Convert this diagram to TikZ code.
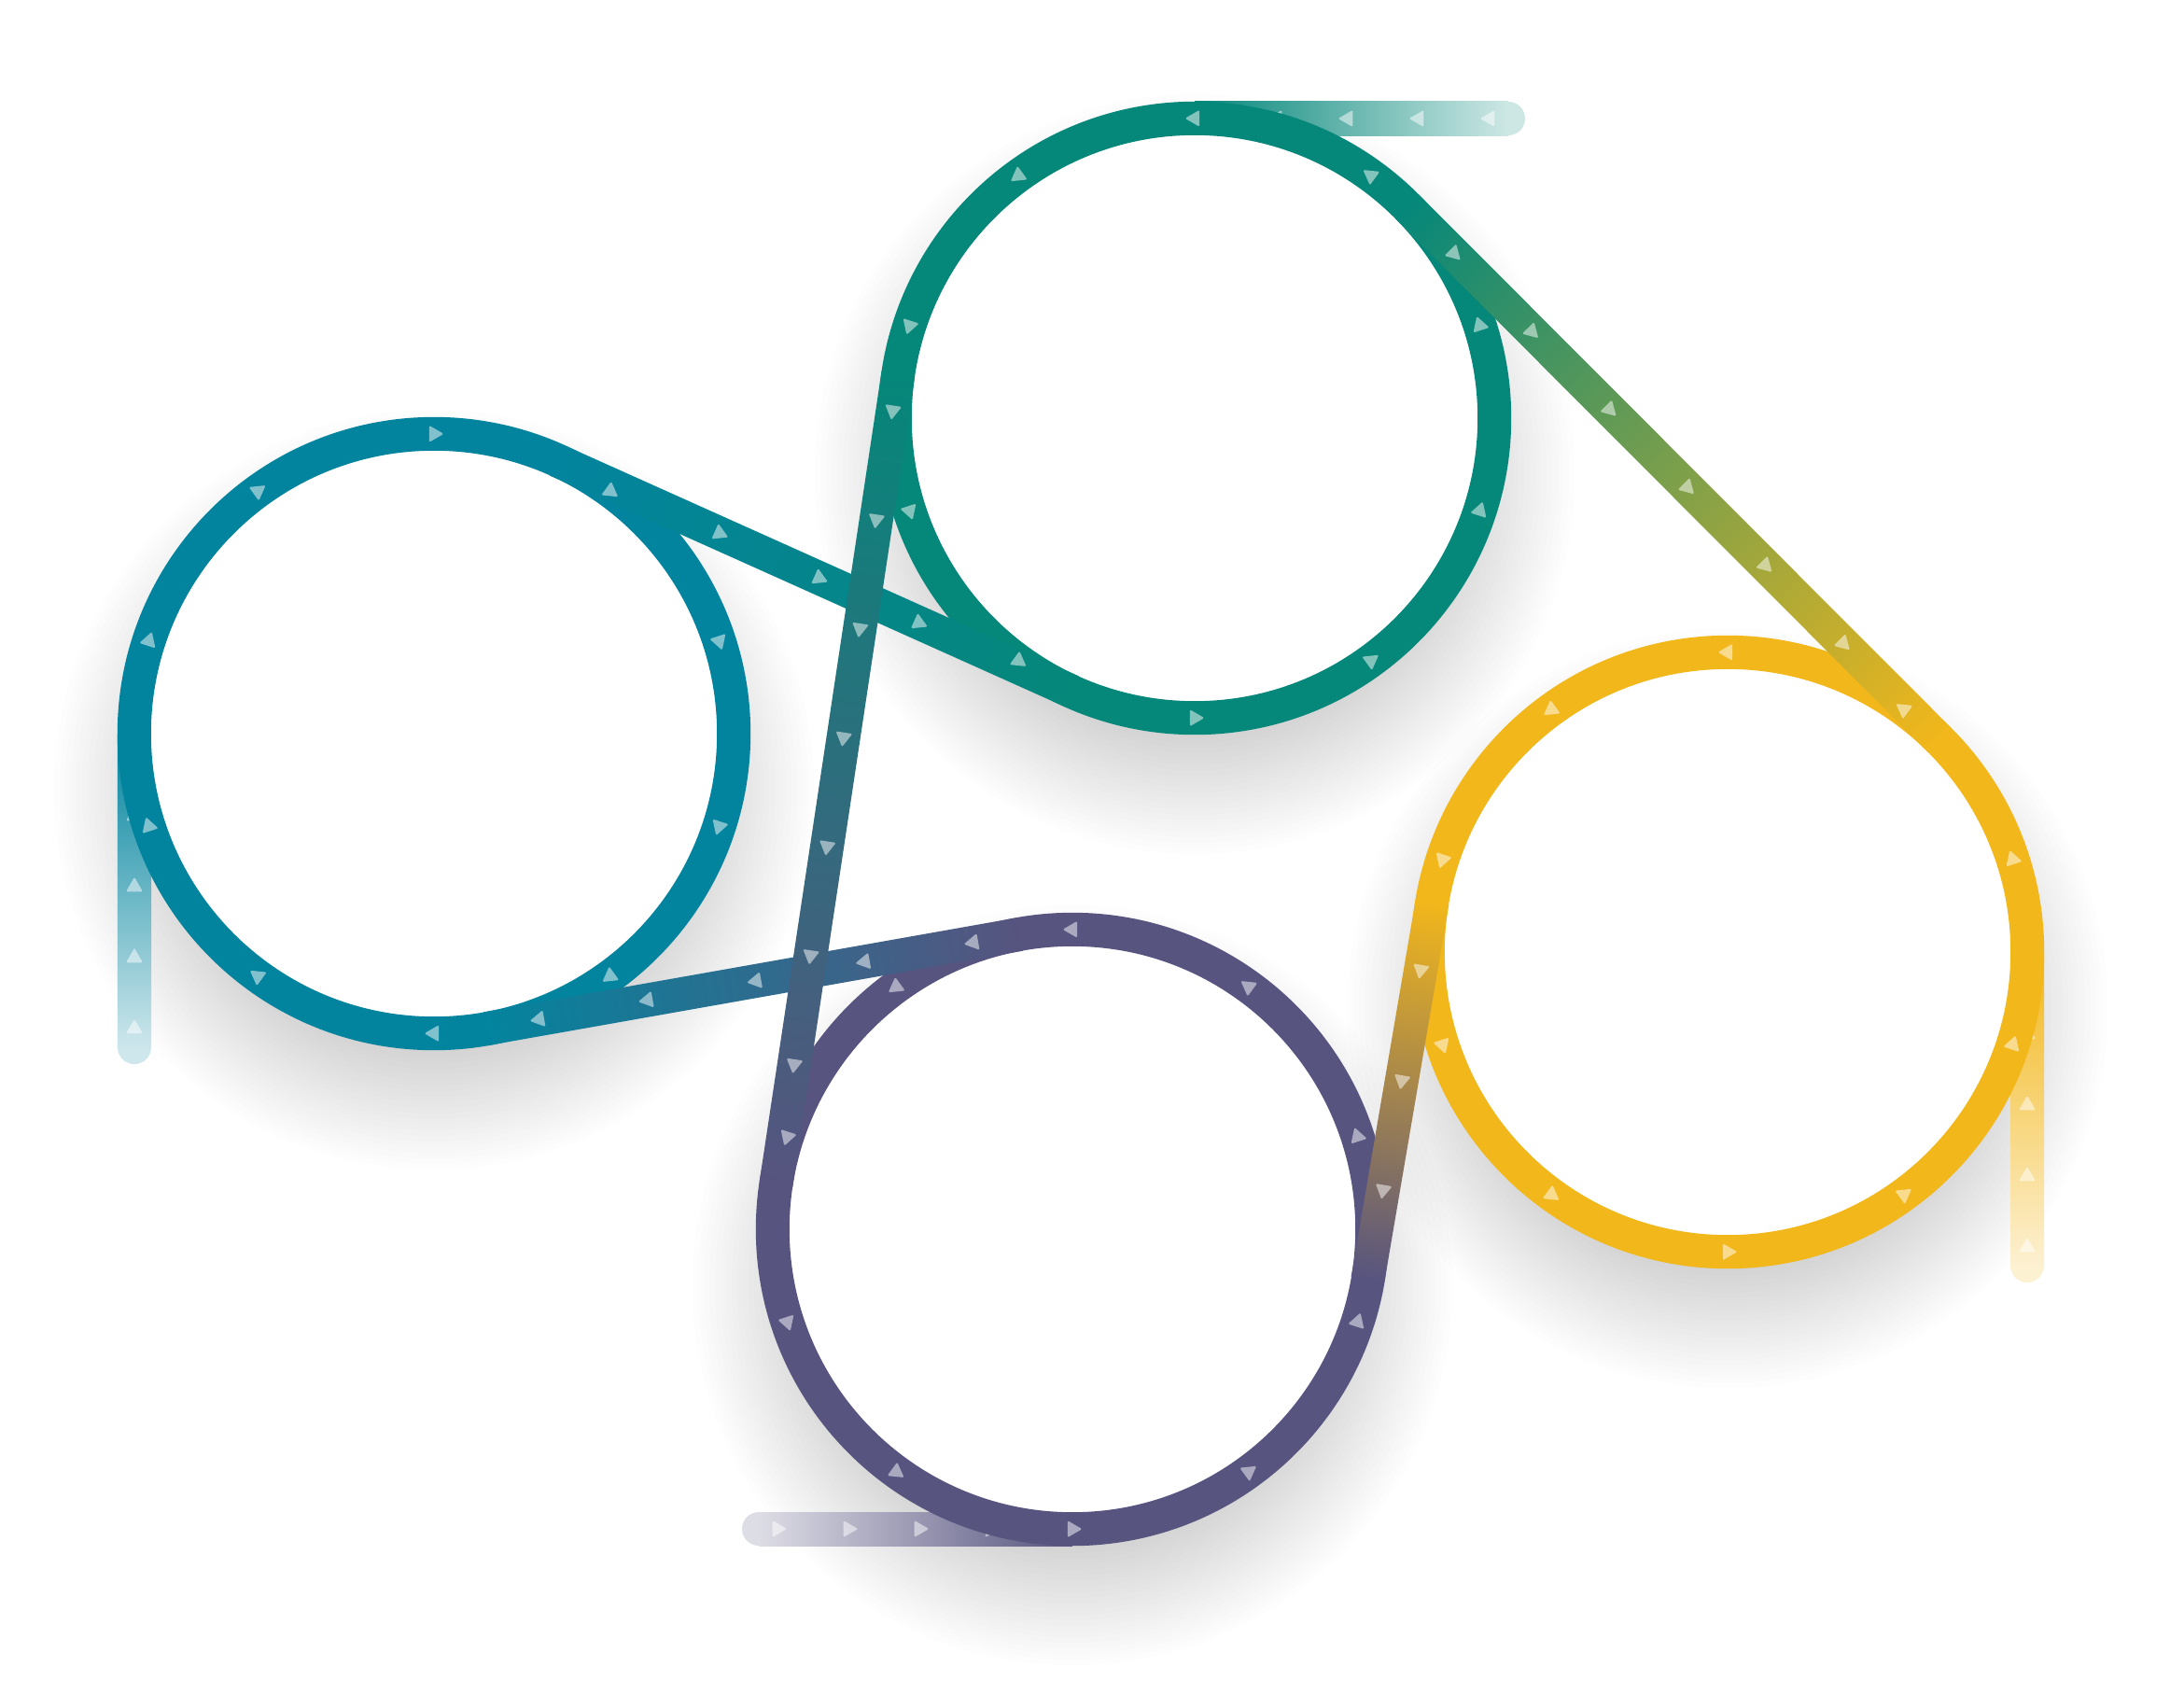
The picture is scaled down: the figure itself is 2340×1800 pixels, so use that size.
\documentclass[tikz,border=0pt]{standalone}
\usetikzlibrary{calc}
\definecolor{colA}{HTML}{05877A}
\definecolor{colB}{HTML}{03849E}
\definecolor{colC}{HTML}{57547F}
\definecolor{colD}{HTML}{F2B71B}
\tikzset{
  arrowst/.style={fill=white, fill opacity=0.5, rounded corners=0.4pt},
  shadowst/.style={fill=black, fill opacity=0.0068},
  ringst/.style={line width=0.36cm, fill=white},
}
\newcommand\bandhalf{0.18cm}
\newcommand\arrr{0.104cm}
\newcommand\mkband[6]{%
  \path (#1); \pgfgetlastxy{\bpx}{\bpy}%
  \path (#2); \pgfgetlastxy{\bqx}{\bqy}%
  \pgfmathsetmacro\bandang{atan2((\bqy)-(\bpy),(\bqx)-(\bpx))}%
  \pgfmathsetmacro\bandlen{veclen((\bqx)-(\bpx),(\bqy)-(\bpy))}%
  \begin{scope}[transform canvas={shift={(#1)},rotate=\bandang}]
    \shade[left color=#3, right color=#4] (0pt,-\bandhalf) rectangle (\bandlen pt,\bandhalf);
  \end{scope}
  \foreach \s in {#5}{%
    \fill[arrowst, shift={($(#1)!\s!(#2)$)}] (\bandang+#6:\arrr) -- (\bandang+#6+120:\arrr) -- (\bandang+#6+240:\arrr) -- cycle;
  }%
}
\begin{document}
\begin{tikzpicture}[x=0.01cm,y=-0.01cm]
\useasboundingbox (0,0) rectangle (2340,1800);
\fill[white] (0,0) rectangle (2340,1800);
% ring centres
\coordinate (A) at (1280,448);
\coordinate (B) at (465,786);
\coordinate (C) at (1149,1317);
\coordinate (D) at (1851,1020);
% tangent points
\coordinate (AD) at ($(A)!3.21cm!90:(D)$);
\coordinate (DA) at ($(D)!3.21cm!-90:(A)$);
\coordinate (AC) at ($(A)!3.21cm!-90:(C)$);
\coordinate (CA) at ($(C)!3.21cm!90:(A)$);
\coordinate (BA) at (596.4,493.1);
\coordinate (AB) at (1148.6,740.9);
\coordinate (CB) at (1093.1,1000.9);
\coordinate (BC) at (520.9,1102.1);
\coordinate (DC) at (1534.6,966.0);
\coordinate (CD) at (1465.4,1371.0);
% tails
\coordinate (tA0) at (1280,127);  \coordinate (tA1) at (1616,127);
\coordinate (tB0) at (144,786);   \coordinate (tB1) at (144,1122);
\coordinate (tD0) at (2172,1020); \coordinate (tD1) at (2172,1356);
\coordinate (tC0) at (1149,1638); \coordinate (tC1) at (813,1638);
% soft shadows
\foreach \n in {A,B,C,D}{\foreach \r in {2.69,2.75,...,4.10}{\fill[shadowst] ($(\n)+(0,60)$) circle [radius=\r cm];}}
% tails
\fill[colA!20] (tA1) circle [radius=0.18cm];
\mkband{tA0}{tA1}{colA}{colA!20}{0.88cm,1.64cm,2.40cm,3.16cm}{180}
\fill[colB!20] (tB1) circle [radius=0.18cm];
\mkband{tB0}{tB1}{colB}{colB!20}{0.88cm,1.64cm,2.40cm,3.16cm}{180}
\fill[colD!20] (tD1) circle [radius=0.18cm];
\mkband{tD0}{tD1}{colD}{colD!20}{0.88cm,1.64cm,2.40cm,3.16cm}{180}
\fill[colC!20] (tC1) circle [radius=0.18cm];
\mkband{tC0}{tC1}{colC}{colC!20}{0.88cm,1.64cm,2.40cm,3.16cm}{180}
% rings
\draw[ringst, draw=colA] (A) circle [radius=3.21cm];
\draw[ringst, draw=colB] (B) circle [radius=3.21cm];
\draw[ringst, draw=colC] (C) circle [radius=3.21cm];
\draw[ringst, draw=colD] (D) circle [radius=3.21cm];
% belts
\mkband{DC}{CD}{colD}{colC}{0.74cm,1.94cm,3.13cm}{0}
\mkband{AD}{DA}{colA}{colD}{0.71cm,1.89cm,3.07cm,4.25cm,5.43cm,6.61cm}{0}
\mkband{BA}{AB}{colB}{colA}{1.91cm,3.08cm,4.25cm}{0}
\mkband{CB}{BC}{colC}{colB}{0.51cm,1.69cm,2.87cm,4.05cm,5.23cm}{0}
\mkband{AC}{CA}{colA}{colC}{0.40cm,1.58cm,2.76cm,3.94cm,5.12cm,6.30cm,7.48cm}{0}
% ring arrows
\foreach \n/\o in {A/90,B/-90,C/90,D/90}{\foreach \t in {18,54,...,342}{\fill[arrowst, shift={($(\n)+(\t:3.21cm)$)}] (\t+\o:\arrr) -- (\t+\o+120:\arrr) -- (\t+\o+240:\arrr) -- cycle;}}
\end{tikzpicture}
\end{document}
